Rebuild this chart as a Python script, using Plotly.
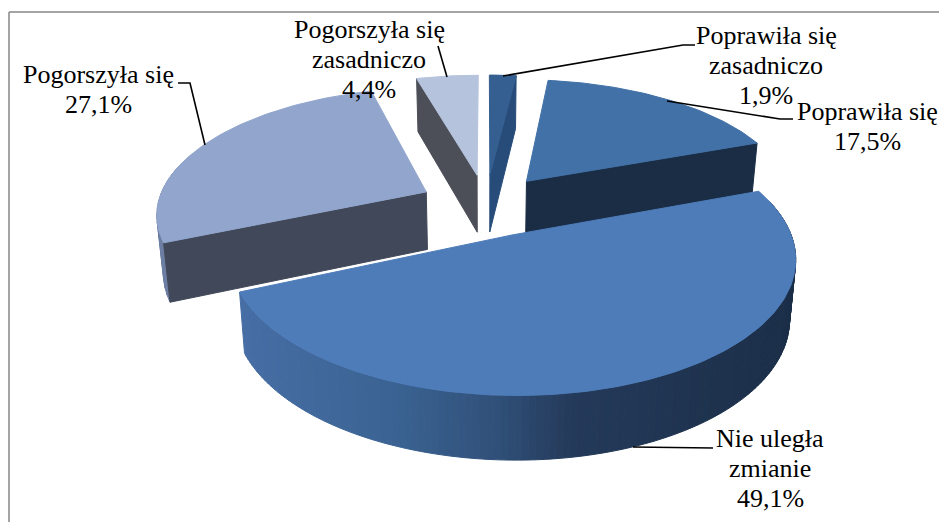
import math
import plotly.graph_objects as go

categories = ["Poprawiła się<br>zasadniczo", "Poprawiła się", "Nie uległa<br>zmianie",
              "Pogorszyła się", "Pogorszyła się<br>zasadniczo"]
values = [1.9, 17.5, 49.1, 27.1, 4.4]
value_labels = ["1,9%", "17,5%", "49,1%", "27,1%", "4,4%"]

top_colors = ["#355f90", "#4271a8", "#4d7cb9", "#92a6cd", "#b5c3dd"]
cut_colors = ["#274c79", "#1a2d45", "#1a2d45", "#404859", "#4c4f58"]
rim_colors = ["#274c79", "#1a2d45", None, "#6d7ea3", "#4c4f58"]
rim_stops = [(240, (70, 110, 165)), (400, (58, 98, 145)), (500, (48, 79, 120)),
             (570, (36, 58, 90)), (795, (27, 46, 72))]

label_pos = [(766, 65.5), (867, 126), (770, 468.5), (98, 89.5), (369, 59.5)]
leaders = [[(695, 45), (683, 45), (503, 76)],
           [(793, 119), (780, 119), (667, 101)],
           [(713, 448), (633, 447)],
           [(178, 83), (190, 83), (205, 145)],
           [(438, 46), (447, 77)]]

CX, CY, A, B, K, EXPLODE, DEPTH = 486, 205, 269, 124.5, 0.158, 0.25, 58
BOTTOM_SHRINK = 0.98
W, H = 947, 522
PAGE_MARGIN = 8
LINE_STEP = 30


def project(x, y, down=False):
    s = 1 / (1 + K * y)
    px = CX + A * x * s
    py = CY - B * y * s
    if down:
        px = CX + (px - CX) * BOTTOM_SHRINK
        py += DEPTH * s ** 0.5
    return px, py


def mix(px):
    if px <= rim_stops[0][0]:
        c = rim_stops[0][1]
    elif px >= rim_stops[-1][0]:
        c = rim_stops[-1][1]
    else:
        for (x0, c0), (x1, c1) in zip(rim_stops, rim_stops[1:]):
            if x0 <= px <= x1:
                t = (px - x0) / (x1 - x0)
                c = tuple(a + (b - a) * t for a, b in zip(c0, c1))
                break
    return "rgb(%d,%d,%d)" % tuple(round(v) for v in c)


fig = go.Figure()


def poly(points, color):
    xs = [p[0] for p in points] + [points[0][0]]
    ys = [p[1] for p in points] + [points[0][1]]
    fig.add_trace(go.Scatter(x=xs, y=ys, mode="lines", fill="toself", fillcolor=color,
                             line=dict(color=color, width=1),
                             hoverinfo="skip", showlegend=False))


total = sum(values)
starts = []
acc = 0.0
for v in values:
    starts.append(acc)
    acc += v
spans = [(s / total * 2 * math.pi, (s + v) / total * 2 * math.pi) for s, v in zip(starts, values)]

for idx in [4, 0, 1, 3, 2]:
    t0, t1 = spans[idx]
    tm = (t0 + t1) / 2
    ox, oy = EXPLODE * math.sin(tm), EXPLODE * math.cos(tm)
    pt = lambda t: (ox + math.sin(t), oy + math.cos(t))
    n = max(3, int((t1 - t0) / 0.02))
    arc = [t0 + (t1 - t0) * i / n for i in range(n + 1)]

    vis0, vis1 = max(t0, math.radians(75)), min(t1, math.radians(285))
    if vis1 > vis0:
        m = 140 if idx == 2 else 12
        seg = [vis0 + (vis1 - vis0) * i / m for i in range(m + 1)]
        for a0, a1 in zip(seg, seg[1:]):
            q = [project(*pt(a0)), project(*pt(a1)),
                 project(*pt(a1), down=True), project(*pt(a0), down=True)]
            col = rim_colors[idx] or mix((q[0][0] + q[1][0]) / 2)
            poly(q, col)

    apex = (ox, oy)
    if math.sin(t0) < -1e-6:
        c = pt(t0)
        poly([project(*apex), project(*c), project(*c, down=True), project(*apex, down=True)], cut_colors[idx])
    if math.sin(t1) > 1e-6:
        c = pt(t1)
        poly([project(*apex), project(*c), project(*c, down=True), project(*apex, down=True)], cut_colors[idx])

    poly([project(*apex)] + [project(*pt(t)) for t in arc], top_colors[idx])

annotations = []
for cat, lab, (x, y) in zip(categories, value_labels, label_pos):
    lines = cat.split("<br>") + [lab]
    for i, line in enumerate(lines):
        annotations.append(dict(x=x, y=y + (i - (len(lines) - 1) / 2) * LINE_STEP, xref="x", yref="y",
                                text=line, showarrow=False, align="center",
                                xanchor="center", yanchor="middle",
                                font=dict(family="'Liberation Serif', 'Times New Roman', serif",
                                          size=26, color="#000000")))

for path in leaders:
    fig.add_trace(go.Scatter(x=[p[0] for p in path], y=[p[1] for p in path], mode="lines",
                             line=dict(color="#000000", width=1.6), hoverinfo="skip", showlegend=False))

fig.update_layout(
    width=W - PAGE_MARGIN, height=H - PAGE_MARGIN, margin=dict(l=0, r=0, t=0, b=0),
    paper_bgcolor="#ffffff", plot_bgcolor="#ffffff", showlegend=False,
    xaxis=dict(range=[PAGE_MARGIN, W], visible=False, fixedrange=True),
    yaxis=dict(range=[H, PAGE_MARGIN], visible=False, fixedrange=True),
    annotations=annotations,
    shapes=[dict(type="line", xref="x", yref="y", x0=9, y0=12, x1=W, y1=12, line=dict(color="#868686", width=1.5)),
            dict(type="line", xref="x", yref="y", x0=9, y0=12, x1=9, y1=H, line=dict(color="#868686", width=1.5))],
)
fig.write_html("out.html", config={"displayModeBar": False})
